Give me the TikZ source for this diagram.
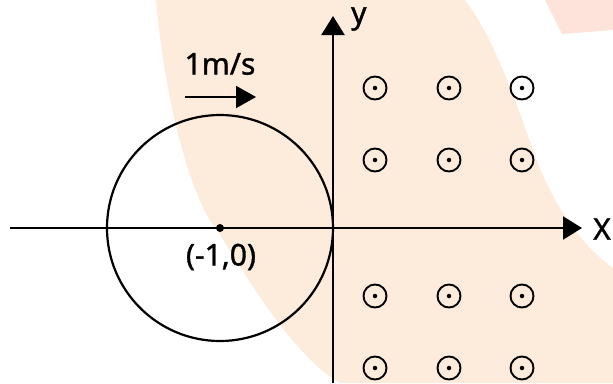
\documentclass[tikz,border=0pt]{standalone}
\usepackage{fontspec}
\setmainfont{Noto Sans}
\newfontfamily\lblfont{Noto Sans}[FakeBold=1.2]
\usetikzlibrary{arrows.meta}
\definecolor{peach}{HTML}{FDEBDB}
\definecolor{pinkish}{HTML}{FDE3DA}
\tikzset{
  axis/.style={line width=2.3pt, -{Triangle[length=19pt,width=23pt]}},
  vel/.style={line width=2pt, -{Triangle[length=20pt,width=22pt]}},
  ring/.style={circle, draw, line width=1.9pt, minimum size=23pt, inner sep=0pt},
  dotc/.style={circle, fill, minimum size=4.5pt, inner sep=0pt},
  lbl/.style={font=\lblfont\fontsize{30}{34}\selectfont, inner sep=0pt},
}
\begin{document}
\begin{tikzpicture}[x=1pt,y=-1pt]
\useasboundingbox (0,0) rectangle (613,383);
% watermark band
\fill[peach] (156,0) .. controls (165,100) and (190,200) .. (219,233)
  .. controls (260,300) and (300,360) .. (340,383) -- (613,383) -- (613,268)
  .. controls (580,245) and (550,200) .. (533,150)
  .. controls (515,100) and (495,40) .. (465,0) -- cycle;
\fill[pinkish] (545,0) -- (613,0) -- (613,30) -- (562,34) -- cycle;
% axes
\coordinate (xs) at (10,228);
\coordinate (xe) at (582,228);
\coordinate (ys) at (333,383);
\coordinate (ye) at (333,16);
\draw[axis] (xs) -- (xe);
\draw[axis] (ys) -- (ye);
\node[lbl, anchor=west] (xl) at (593,229) {X};
\node[lbl, anchor=west] (yl) at (351,19) {y};
% circle
\node[circle, draw, line width=2.2pt, minimum size=226pt, inner sep=0pt] (loop) at (220,228) {};
\node[dotc, minimum size=8pt] (ctr) at (220,228) {};
\node[lbl] (ctrl) at (221,257) {(-1,0)};
% velocity
\node[lbl] (vl) at (220,64) {1m/s};
\coordinate (vs) at (185,97);
\coordinate (ve) at (256,97);
\draw[vel] (vs) -- (ve);
% field dots
\foreach \x/\i in {375/1,449/2,522/3}{
  \foreach \y/\j in {88/1,160/2,296/3,368/4}{
    \node[ring] (r\i\j) at (\x,\y) {};
    \node[dotc] (d\i\j) at (\x,\y) {};
  }
}
\end{tikzpicture}
\end{document}
